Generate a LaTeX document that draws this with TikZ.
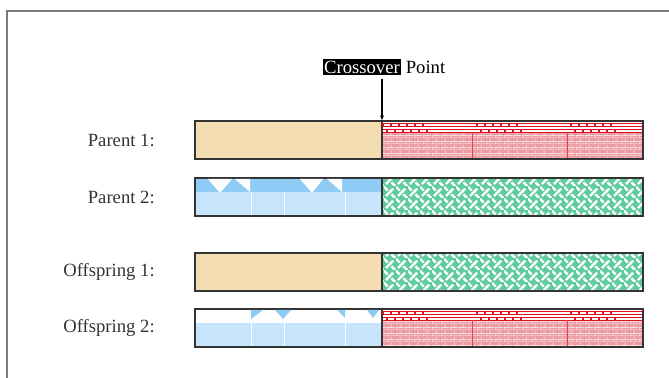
\documentclass[tikz,border=0pt]{standalone}
\usepackage{fontspec}
\setmainfont{Liberation Serif}
\usetikzlibrary{arrows.meta, positioning, patterns}

\definecolor{tanfill}{HTML}{F3DCB0}
\definecolor{brickpink}{HTML}{EE9CA4}
\definecolor{brickred}{HTML}{E2101E}
\definecolor{mint}{HTML}{5FCB9F}
\definecolor{skylight}{HTML}{C6E4FA}
\definecolor{skyband}{HTML}{8ECCF6}
\definecolor{barline}{HTML}{333333}
\definecolor{framegray}{HTML}{7A7A7A}

% small running bricks
\pgfdeclarepatternformonly{tinybricks}{\pgfpointorigin}{\pgfpoint{6.75pt}{4.5pt}}{\pgfpoint{6.75pt}{4.5pt}}{
  \pgfsetlinewidth{0.5pt}
  \pgfpathmoveto{\pgfpoint{0pt}{0pt}}\pgfpathlineto{\pgfpoint{6.75pt}{0pt}}
  \pgfpathmoveto{\pgfpoint{0pt}{2.25pt}}\pgfpathlineto{\pgfpoint{6.75pt}{2.25pt}}
  \pgfpathmoveto{\pgfpoint{0pt}{0pt}}\pgfpathlineto{\pgfpoint{0pt}{2.25pt}}
  \pgfpathmoveto{\pgfpoint{3.375pt}{2.25pt}}\pgfpathlineto{\pgfpoint{3.375pt}{4.5pt}}
  \pgfusepath{stroke}
}
% diagonal basket weave
\pgfdeclarepatternformonly{weave}{\pgfpointorigin}{\pgfpoint{9pt}{9pt}}{\pgfpoint{9pt}{9pt}}{
  \pgfsetlinewidth{1.9pt}
  \pgfpathmoveto{\pgfpoint{1.6pt}{1.6pt}}\pgfpathlineto{\pgfpoint{7.4pt}{7.4pt}}
  \pgfpathmoveto{\pgfpoint{-1pt}{10pt}}\pgfpathlineto{\pgfpoint{3pt}{6pt}}
  \pgfpathmoveto{\pgfpoint{6pt}{3pt}}\pgfpathlineto{\pgfpoint{10pt}{-1pt}}
  \pgfusepath{stroke}
}

\tikzset{
  lbl/.style={inner sep=0pt, text=barline, font=\fontsize{14}{16}\selectfont},
  gene/.style={draw=barline, line width=1.3pt, minimum height=28.5pt, inner sep=0pt,
    outer sep=0pt, anchor=north west},
  half/.style={gene, minimum width={#1*0.75pt}},
  tan/.style={fill=tanfill},
  basket/.style={preaction={fill=mint}, pattern=weave, pattern color=white},
  brick/.style={preaction={fill=brickpink}, pattern=tinybricks, pattern color=white},
  sky/.style={fill=skylight},
  % top bands, placed at the north west corner of a gene block
  brickband/.pic={
    \fill[white] (1,1) rectangle (260,11.5);
    \foreach \y in {2.5,5.5,8,11}
      \draw[brickred, line width=0.7pt] (1,\y) -- (260,\y);
    \foreach \c in {1,95,189} {
      \foreach \i in {0,...,5} {
        \draw[brickred, line width=0.9pt] (\c+\i*8,2.5) -- (\c+\i*8,5.5);
        \draw[brickred, line width=0.9pt] (\c+4+\i*8,8) -- (\c+4+\i*8,11);
      }
    }
    \draw[brickred!80, line width=0.5pt] (90,11.5) -- (90,37) (185,11.5) -- (185,37);
  },
  skyband/.pic={
    \fill[skyband] (1,1) rectangle (186,14);
    \fill[white] (13,1) -- (37,1) -- (25,15) -- cycle
                 (40,1) -- (55,1) -- (55,14) -- cycle
                 (105,1) -- (128,1) -- (117,15) -- cycle
                 (132,1) -- (147,1) -- (147,14) -- cycle;
    \draw[white, line width=0.6pt] (56,14) -- (56,37) (89,14) -- (89,37) (150,14) -- (150,37);
  },
  skyinvband/.pic={
    \fill[white] (1,1) rectangle (186,14);
    \fill[skyband] (56,1) -- (68,1) -- (56,10) -- cycle
                   (80,1) -- (96,1) -- (88,10) -- cycle
                   (142,1) -- (150,1) -- (150,9) -- cycle
                   (172,1) -- (184,1) -- (178,9) -- cycle;
    \draw[white, line width=0.6pt] (56,14) -- (56,37) (89,14) -- (89,37) (150,14) -- (150,37);
  },
  line/.style={-{Latex[length=4pt,width=3pt]}, line width=0.8pt}
}

\begin{document}
\begin{tikzpicture}[x=0.75pt, y=-0.75pt]
\useasboundingbox (0,0) rectangle (669,378);
\draw[framegray, line width=1.6pt] (669,11) -- (7,11) -- (7,378);

% chromosomes, cut after the first gene block
\node[half=187, tan] (p1a) at (195,121) {};
\node[half=261, brick] (p1b) at (p1a.north east) {};
\node[half=187, sky] (p2a) at (195,178) {};
\node[half=261, basket] (p2b) at (p2a.north east) {};
\node[half=187, tan] (o1a) at (195,253) {};
\node[half=261, basket] (o1b) at (o1a.north east) {};
\node[half=187, sky] (o2a) at (195,309) {};
\node[half=261, brick] (o2b) at (o2a.north east) {};

\pic at (p1b.north west) {brickband};
\pic at (o2b.north west) {brickband};
\pic at (p2a.north west) {skyband};
\pic at (o2a.north west) {skyinvband};

\node[lbl, anchor=east] (p1lbl) at (155,140) {Parent 1:};
\node[lbl, anchor=east] (p2lbl) at (155,197) {Parent 2:};
\node[lbl, anchor=east] (o1lbl) at (155,272) {Offspring 1:};
\node[lbl, anchor=east] (o2lbl) at (155,328) {Offspring 2:};

\node[lbl, text=black] (xover) at (384,67) {\setlength{\fboxsep}{1pt}\colorbox{black}{\color{white}Crossover} Point};
\draw[line, shorten <=3pt] (xover.south -| p1a.north east) -- (p1a.north east);
\end{tikzpicture}
\end{document}
